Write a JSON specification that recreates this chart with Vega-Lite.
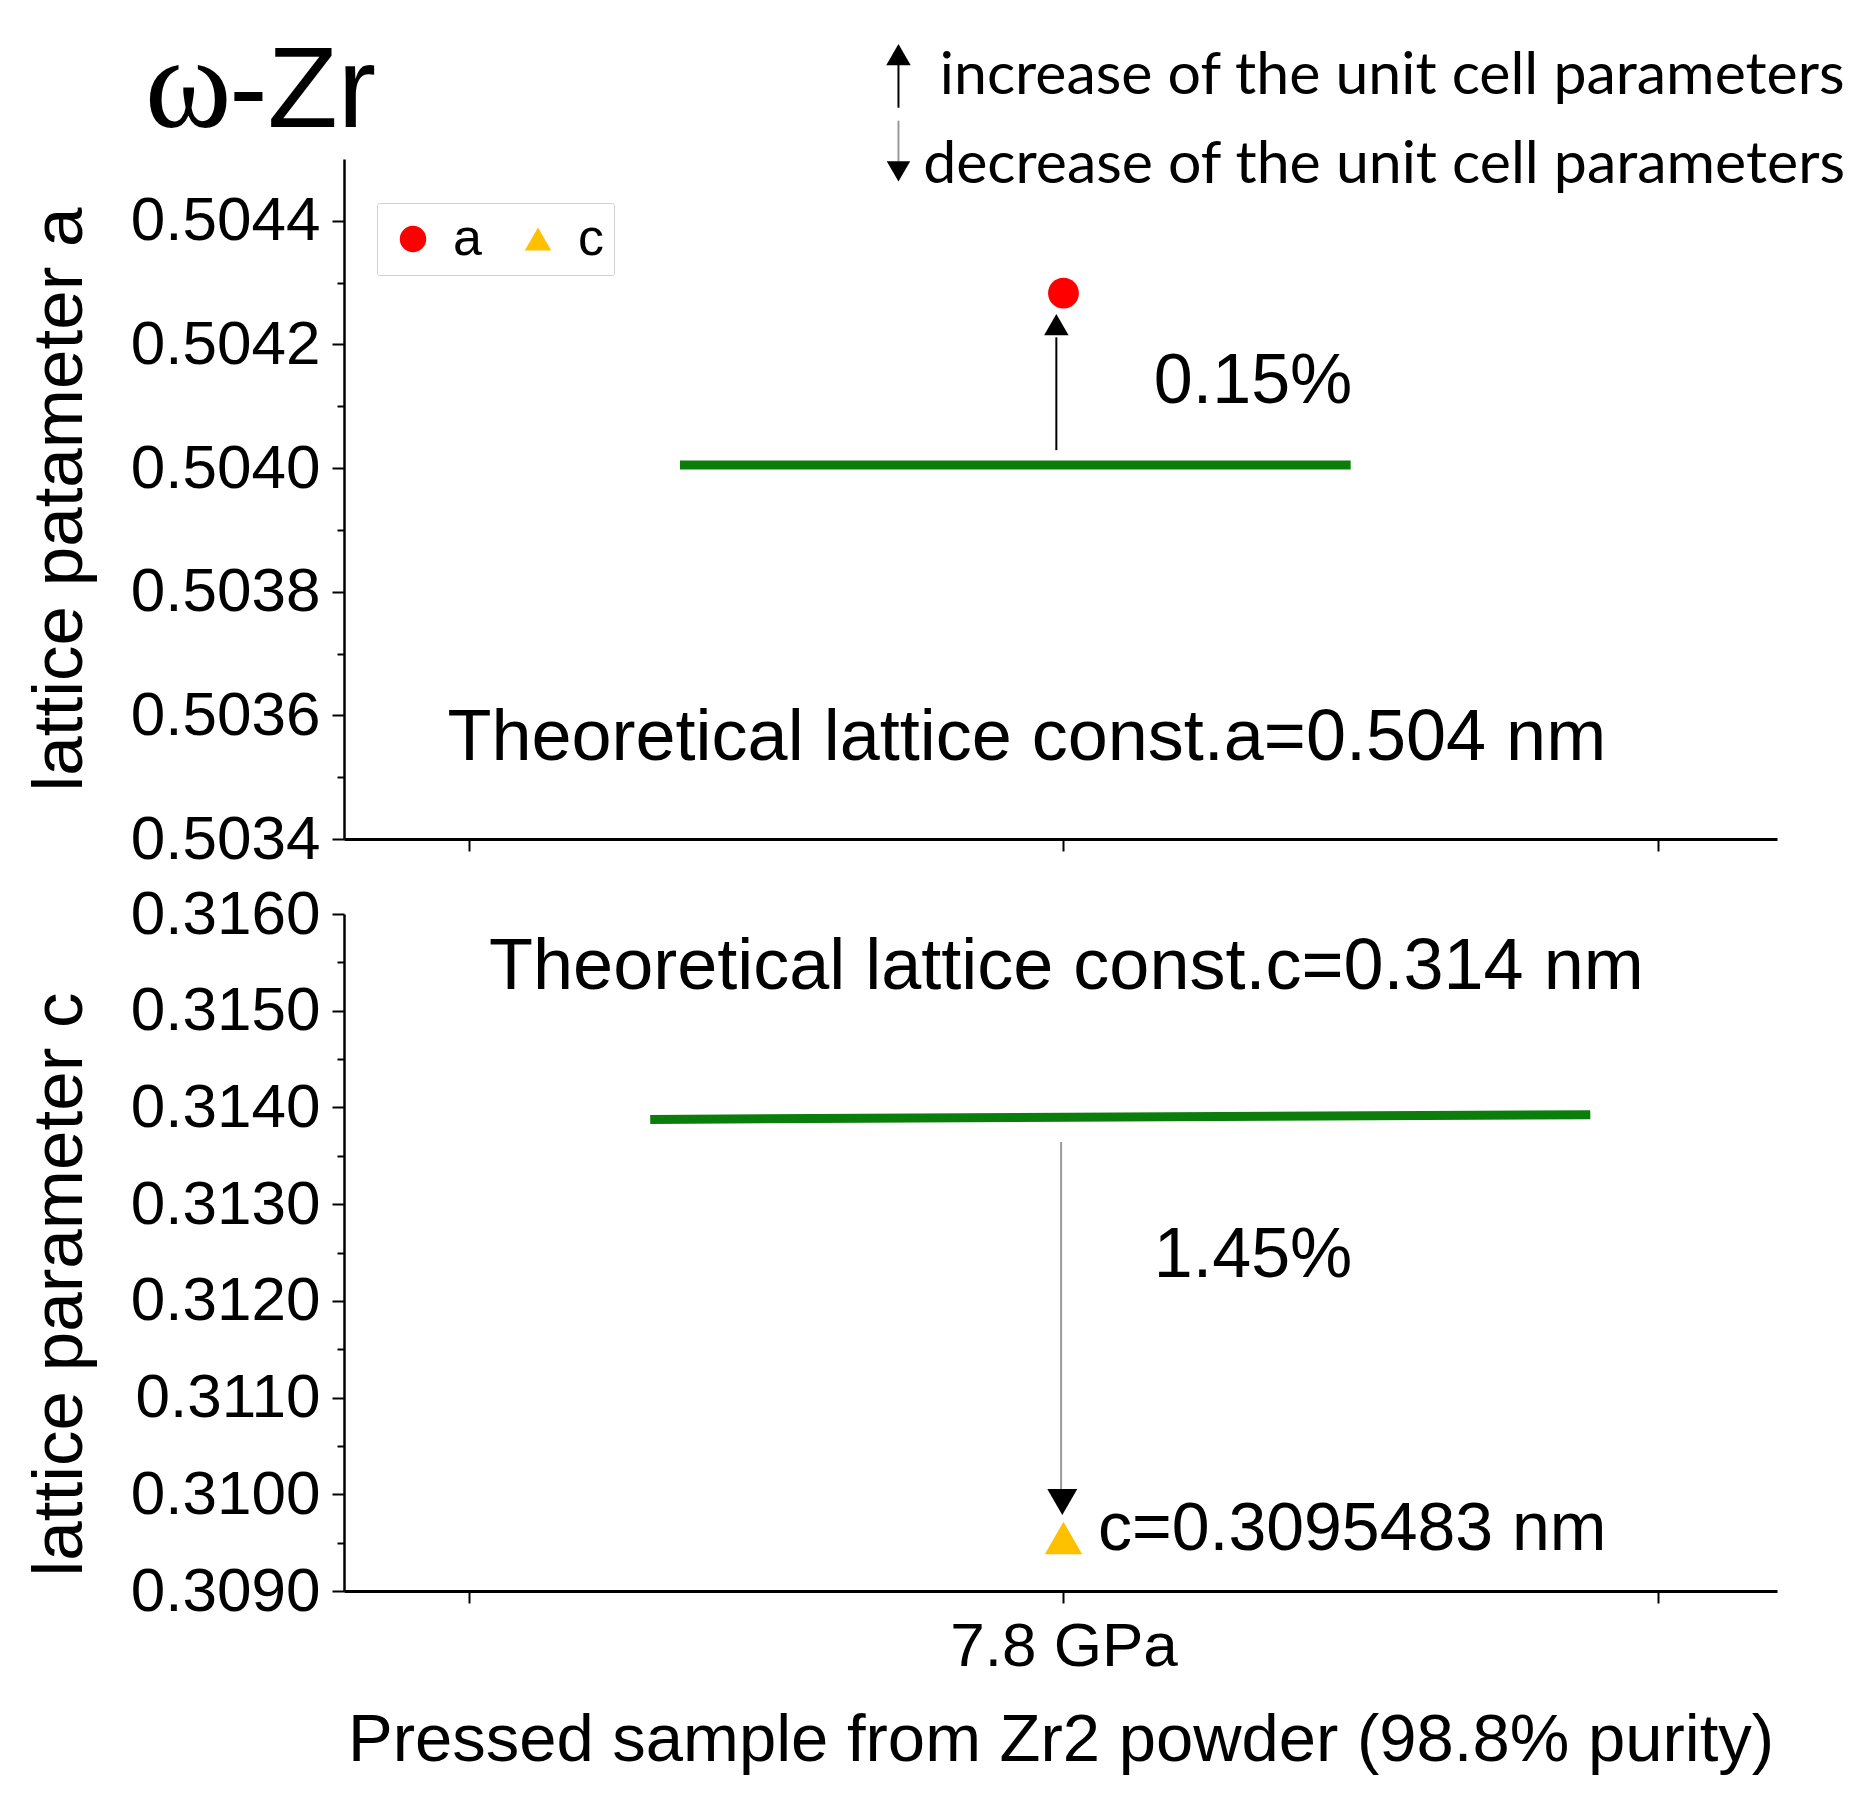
{
  "$schema": "https://vega.github.io/schema/vega-lite/v6.json",
  "background": "white",
  "padding": {"left": 24, "top": 20, "right": 10, "bottom": 20},
  "spacing": 75,
  "bounds": "flush",
  "config": {
    "view": {"stroke": null},
    "font": "Liberation Sans",
    "axis": {
      "labelFont": "Liberation Sans",
      "titleFont": "Liberation Sans",
      "labelColor": "black",
      "titleColor": "black",
      "domainColor": "black",
      "tickColor": "black",
      "titleFontWeight": "normal",
      "labelLimit": 0,
      "grid": false
    },
    "legend": {
      "orient": "none",
      "legendX": 33,
      "legendY": 44,
      "direction": "horizontal",
      "strokeColor": "#d0d0d0",
      "fillColor": "white",
      "padding": 10,
      "cornerRadius": 2,
      "labelFont": "Liberation Sans",
      "labelFontSize": 52,
      "labelColor": "black",
      "symbolSize": 700,
      "symbolStrokeWidth": 0,
      "columnPadding": 30,
      "labelOffset": 14
    }
  },
  "vconcat": [
    {
      "width": 1433,
      "height": 680,
      "resolve": {"axis": {"y": "independent"}},
      "layer": [
        {
          "data": {"values": [{"x": 0.355, "x2": 1.483, "y": 0.504005}]},
          "mark": {"type": "rule", "color": "#0a7d0a", "strokeWidth": 9},
          "encoding": {
            "x": {"field": "x", "type": "quantitative",
              "scale": {"domain": [-0.21, 2.2], "nice": false, "zero": false},
              "axis": {"values": [0, 1, 2], "labels": false, "title": null, "tickSize": 12, "tickWidth": 2, "domainWidth": 3}},
            "x2": {"field": "x2"},
            "y": {"field": "y", "type": "quantitative",
              "scale": {"domain": [0.5034, 0.5045], "nice": false, "zero": false},
              "axis": {"values": [0.5034, 0.5036, 0.5038, 0.504, 0.5042, 0.5044], "format": ".4f",
                "tickSize": 12, "tickWidth": 2, "domainWidth": 2.5, "labelFontSize": 62, "labelPadding": 12,
                "title": "lattice patameter a", "titleFontSize": 71, "titlePadding": 48}}
          }
        },
        {
          "data": {"values": [
            {"x": 0.988, "y": 0.504029, "y2": 0.5042115},
            {"x": 0.7225, "y": 0.504583, "y2": 0.504655}
          ]},
          "mark": {"type": "rule", "color": "black", "strokeWidth": 2},
          "encoding": {
            "x": {"field": "x", "type": "quantitative"},
            "y": {"field": "y", "type": "quantitative",
              "axis": {"orient": "left", "values": [0.5035, 0.5037, 0.5039, 0.5041, 0.5043], "labels": false, "domain": false, "title": null, "tickSize": 7, "tickWidth": 2}},
            "y2": {"field": "y2"}
          }
        },
        {
          "data": {"values": [{"x": 0.7225, "y": 0.504562, "y2": 0.504495}]},
          "mark": {"type": "rule", "color": "#9a9a9a", "strokeWidth": 2},
          "encoding": {
            "x": {"field": "x", "type": "quantitative"},
            "y": {"field": "y", "type": "quantitative", "axis": null},
            "y2": {"field": "y2"}
          }
        },
        {
          "data": {"values": [{"x": 0.988, "y": 0.504232}, {"x": 0.7225, "y": 0.504669}]},
          "mark": {"type": "point", "shape": "triangle-up", "filled": true, "color": "black", "opacity": 1, "size": 600},
          "encoding": {
            "x": {"field": "x", "type": "quantitative"},
            "y": {"field": "y", "type": "quantitative", "axis": null}
          }
        },
        {
          "data": {"values": [{"x": 0.7225, "y": 0.50448}]},
          "mark": {"type": "point", "shape": "triangle-down", "filled": true, "color": "black", "opacity": 1, "size": 550},
          "encoding": {
            "x": {"field": "x", "type": "quantitative"},
            "y": {"field": "y", "type": "quantitative", "axis": null}
          }
        },
        {
          "data": {"values": [{"x": 1.0, "y": 0.504283, "series": "a"}]},
          "mark": {"type": "point", "filled": true, "opacity": 1, "size": 950},
          "encoding": {
            "x": {"field": "x", "type": "quantitative"},
            "y": {"field": "y", "type": "quantitative", "axis": null},
            "color": {"field": "series", "type": "nominal", "scale": {"domain": ["a", "c"], "range": ["#ff0000", "#ffc000"]}, "title": null},
            "shape": {"field": "series", "type": "nominal", "scale": {"domain": ["a", "c"], "range": ["circle", "triangle-up"]}, "title": null}
          }
        },
        {
          "data": {"values": [{"x": 1.152, "y": 0.50414, "label": "0.15%"}]},
          "mark": {"type": "text", "align": "left", "baseline": "middle", "fontSize": 70, "font": "Liberation Sans", "color": "black"},
          "encoding": {
            "x": {"field": "x", "type": "quantitative"},
            "y": {"field": "y", "type": "quantitative", "axis": null},
            "text": {"field": "label"}
          }
        },
        {
          "data": {"values": [{"x": -0.036, "y": 0.503563, "label": "Theoretical lattice const.a=0.504 nm"}]},
          "mark": {"type": "text", "align": "left", "baseline": "middle", "fontSize": 72, "font": "Liberation Sans", "color": "black"},
          "encoding": {
            "x": {"field": "x", "type": "quantitative"},
            "y": {"field": "y", "type": "quantitative", "axis": null},
            "text": {"field": "label"}
          }
        },
        {
          "data": {"values": [
            {"x": 0.792, "y": 0.504635, "label": "increase of the unit cell parameters"},
            {"x": 0.764, "y": 0.50449, "label": "decrease of the unit cell parameters"}
          ]},
          "mark": {"type": "text", "align": "left", "baseline": "middle", "fontSize": 59, "font": "Lato", "color": "black"},
          "encoding": {
            "x": {"field": "x", "type": "quantitative"},
            "y": {"field": "y", "type": "quantitative", "axis": null},
            "text": {"field": "label"}
          }
        },
        {
          "data": {"values": [{"x": -0.545, "y": 0.504552, "label": "ω"}]},
          "mark": {"type": "text", "align": "left", "baseline": "alphabetic", "fontSize": 132, "font": "Liberation Serif", "color": "black"},
          "encoding": {
            "x": {"field": "x", "type": "quantitative"},
            "y": {"field": "y", "type": "quantitative", "axis": null},
            "text": {"field": "label"}
          }
        },
        {
          "data": {"values": [{"x": -0.403, "y": 0.504552, "label": "-Zr"}]},
          "mark": {"type": "text", "align": "left", "baseline": "alphabetic", "fontSize": 115, "font": "Liberation Sans", "color": "black"},
          "encoding": {
            "x": {"field": "x", "type": "quantitative"},
            "y": {"field": "y", "type": "quantitative", "axis": null},
            "text": {"field": "label"}
          }
        }
      ]
    },
    {
      "width": 1433,
      "height": 677,
      "resolve": {"axis": {"y": "independent"}},
      "layer": [
        {
          "data": {"values": [{"x": 0.305, "y": 0.313876, "x2": 1.886, "y2": 0.313925}]},
          "mark": {"type": "rule", "color": "#0a7d0a", "strokeWidth": 9},
          "encoding": {
            "x": {"field": "x", "type": "quantitative",
              "scale": {"domain": [-0.21, 2.2], "nice": false, "zero": false},
              "axis": {"values": [0, 1, 2], "labelExpr": "datum.value == 1 ? '7.8 GPa' : ''", "labelFontSize": 62, "labelPadding": 13,
                "tickSize": 12, "tickWidth": 2, "domainWidth": 3,
                "title": "Pressed sample from Zr2 powder (98.8% purity)", "titleFontSize": 67, "titlePadding": 30}},
            "x2": {"field": "x2"},
            "y": {"field": "y", "type": "quantitative",
              "scale": {"domain": [0.309, 0.316], "nice": false, "zero": false},
              "axis": {"values": [0.309, 0.31, 0.311, 0.312, 0.313, 0.314, 0.315, 0.316], "format": ".4f",
                "tickSize": 12, "tickWidth": 2, "domainWidth": 2.5, "labelFontSize": 62, "labelPadding": 12,
                "title": "lattice parameter c", "titleFontSize": 71, "titlePadding": 48, "titleY": 370}},
            "y2": {"field": "y2"}
          }
        },
        {
          "data": {"values": [{"x": 0.996, "y": 0.313642, "y2": 0.310044}]},
          "mark": {"type": "rule", "color": "#9a9a9a", "strokeWidth": 2},
          "encoding": {
            "x": {"field": "x", "type": "quantitative"},
            "y": {"field": "y", "type": "quantitative",
              "axis": {"orient": "left", "values": [0.3095, 0.3105, 0.3115, 0.3125, 0.3135, 0.3145, 0.3155], "labels": false, "domain": false, "title": null, "tickSize": 7, "tickWidth": 2}},
            "y2": {"field": "y2"}
          }
        },
        {
          "data": {"values": [{"x": 0.998, "y": 0.309921}]},
          "mark": {"type": "point", "shape": "triangle-down", "filled": true, "color": "black", "opacity": 1, "size": 900},
          "encoding": {
            "x": {"field": "x", "type": "quantitative"},
            "y": {"field": "y", "type": "quantitative", "axis": null}
          }
        },
        {
          "data": {"values": [{"x": 1.0, "y": 0.3095483, "series": "c"}]},
          "mark": {"type": "point", "filled": true, "opacity": 1, "size": 1400},
          "encoding": {
            "x": {"field": "x", "type": "quantitative"},
            "y": {"field": "y", "type": "quantitative", "axis": null},
            "color": {"field": "series", "type": "nominal", "scale": {"domain": ["a", "c"], "range": ["#ff0000", "#ffc000"]}, "title": null},
            "shape": {"field": "series", "type": "nominal", "scale": {"domain": ["a", "c"], "range": ["circle", "triangle-up"]}, "title": null}
          }
        },
        {
          "data": {"values": [{"x": 0.034, "y": 0.315447, "label": "Theoretical lattice const.c=0.314 nm"}]},
          "mark": {"type": "text", "align": "left", "baseline": "middle", "fontSize": 72, "font": "Liberation Sans", "color": "black"},
          "encoding": {
            "x": {"field": "x", "type": "quantitative"},
            "y": {"field": "y", "type": "quantitative", "axis": null},
            "text": {"field": "label"}
          }
        },
        {
          "data": {"values": [{"x": 1.152, "y": 0.312463, "label": "1.45%"}]},
          "mark": {"type": "text", "align": "left", "baseline": "middle", "fontSize": 70, "font": "Liberation Sans", "color": "black"},
          "encoding": {
            "x": {"field": "x", "type": "quantitative"},
            "y": {"field": "y", "type": "quantitative", "axis": null},
            "text": {"field": "label"}
          }
        },
        {
          "data": {"values": [{"x": 1.058, "y": 0.30963, "label": "c=0.3095483 nm"}]},
          "mark": {"type": "text", "align": "left", "baseline": "middle", "fontSize": 68, "font": "Liberation Sans", "color": "black"},
          "encoding": {
            "x": {"field": "x", "type": "quantitative"},
            "y": {"field": "y", "type": "quantitative", "axis": null},
            "text": {"field": "label"}
          }
        }
      ]
    }
  ]
}
